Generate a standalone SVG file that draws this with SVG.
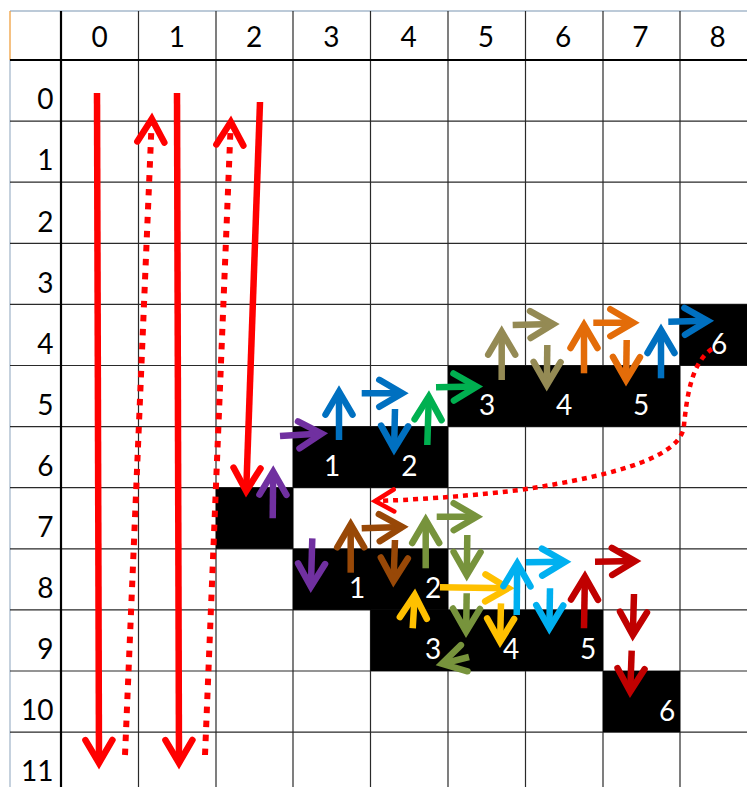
<svg xmlns="http://www.w3.org/2000/svg" width="747" height="787" viewBox="0 0 747 787">
<style>
.g{stroke:#2a2a2a;stroke-width:1.2;fill:none}
.gb{stroke:#000;stroke-width:2.2;fill:none}
.bd{stroke:#a7b9cc;stroke-width:1.3;fill:none}
.cell{fill:#000}
.hd{font-family:Lato,"Liberation Sans",sans-serif;font-size:28px;fill:#000}
.wn{font-family:Lato,"Liberation Sans",sans-serif;font-size:28px;fill:#fff;text-anchor:middle}
.a{fill:none;stroke-width:6.5;stroke-linecap:butt}
.red{stroke:#ff0000}.pur{stroke:#7030a0}.blu{stroke:#0070c0}.grn{stroke:#00b050}
.khk{stroke:#948a54}.org{stroke:#e36c09}.brn{stroke:#984807}.ogr{stroke:#77933c}
.yel{stroke:#ffc000}.lbl{stroke:#00b0f0}.drd{stroke:#c00000}
.dot{fill:none;stroke:#ff0000;stroke-width:6;stroke-dasharray:6.5 7.5}
.dotc{fill:none;stroke:#ff0000;stroke-width:4.5;stroke-dasharray:5 5}
</style>
<defs>
<marker id="h-red" markerUnits="userSpaceOnUse" refX="0" refY="0" orient="auto" overflow="visible"><path d="M-23,-13.5 L0,0 L-23,13.5" fill="none" stroke="#ff0000" stroke-width="6.5" stroke-linecap="round"/></marker>
<marker id="h-reds" markerUnits="userSpaceOnUse" refX="0" refY="0" orient="auto" overflow="visible"><path d="M-19,-11 L0,0 L-19,11" fill="none" stroke="#ff0000" stroke-width="4.5" stroke-linecap="round"/></marker>
<marker id="h-pur" markerUnits="userSpaceOnUse" refX="0" refY="0" orient="auto" overflow="visible"><path d="M-23,-13.5 L0,0 L-23,13.5" fill="none" stroke="#7030a0" stroke-width="6.5" stroke-linecap="round"/></marker>
<marker id="h-blu" markerUnits="userSpaceOnUse" refX="0" refY="0" orient="auto" overflow="visible"><path d="M-23,-13.5 L0,0 L-23,13.5" fill="none" stroke="#0070c0" stroke-width="6.5" stroke-linecap="round"/></marker>
<marker id="h-grn" markerUnits="userSpaceOnUse" refX="0" refY="0" orient="auto" overflow="visible"><path d="M-23,-13.5 L0,0 L-23,13.5" fill="none" stroke="#00b050" stroke-width="6.5" stroke-linecap="round"/></marker>
<marker id="h-khk" markerUnits="userSpaceOnUse" refX="0" refY="0" orient="auto" overflow="visible"><path d="M-23,-13.5 L0,0 L-23,13.5" fill="none" stroke="#948a54" stroke-width="6.5" stroke-linecap="round"/></marker>
<marker id="h-org" markerUnits="userSpaceOnUse" refX="0" refY="0" orient="auto" overflow="visible"><path d="M-23,-13.5 L0,0 L-23,13.5" fill="none" stroke="#e36c09" stroke-width="6.5" stroke-linecap="round"/></marker>
<marker id="h-brn" markerUnits="userSpaceOnUse" refX="0" refY="0" orient="auto" overflow="visible"><path d="M-23,-13.5 L0,0 L-23,13.5" fill="none" stroke="#984807" stroke-width="6.5" stroke-linecap="round"/></marker>
<marker id="h-ogr" markerUnits="userSpaceOnUse" refX="0" refY="0" orient="auto" overflow="visible"><path d="M-23,-13.5 L0,0 L-23,13.5" fill="none" stroke="#77933c" stroke-width="6.5" stroke-linecap="round"/></marker>
<marker id="h-yel" markerUnits="userSpaceOnUse" refX="0" refY="0" orient="auto" overflow="visible"><path d="M-23,-13.5 L0,0 L-23,13.5" fill="none" stroke="#ffc000" stroke-width="6.5" stroke-linecap="round"/></marker>
<marker id="h-lbl" markerUnits="userSpaceOnUse" refX="0" refY="0" orient="auto" overflow="visible"><path d="M-23,-13.5 L0,0 L-23,13.5" fill="none" stroke="#00b0f0" stroke-width="6.5" stroke-linecap="round"/></marker>
<marker id="h-drd" markerUnits="userSpaceOnUse" refX="0" refY="0" orient="auto" overflow="visible"><path d="M-23,-13.5 L0,0 L-23,13.5" fill="none" stroke="#c00000" stroke-width="6.5" stroke-linecap="round"/></marker>
</defs>
<rect x="0" y="0" width="747" height="787" fill="#fff"/>
<g id="grid">
<path class="bd" d="M10,11 H747 M10,60 V787"/>
<path d="M10,11 V60" stroke="#f0a040" stroke-width="1.3"/>
<path class="g" d="M138.5,11 V787 M216,11 V787 M293,11 V787 M370.5,11 V787 M448,11 V787 M525.5,11 V787 M603,11 V787 M680,11 V787"/>
<path class="g" d="M10,121.1 H747 M10,182.2 H747 M10,243.3 H747 M10,304.4 H747 M10,365.5 H747 M10,426.6 H747 M10,487.7 H747 M10,548.8 H747 M10,609.9 H747 M10,671 H747 M10,732.1 H747"/>
<path class="gb" d="M10,60 H747 M61,11 V787"/>
</g>
<g id="headers">
<text class="hd" text-anchor="middle" x="99.6" y="47">0</text>
<text class="hd" text-anchor="middle" x="176.9" y="47">1</text>
<text class="hd" text-anchor="middle" x="254.1" y="47">2</text>
<text class="hd" text-anchor="middle" x="331.4" y="47">3</text>
<text class="hd" text-anchor="middle" x="408.6" y="47">4</text>
<text class="hd" text-anchor="middle" x="485.9" y="47">5</text>
<text class="hd" text-anchor="middle" x="563.1" y="47">6</text>
<text class="hd" text-anchor="middle" x="640.4" y="47">7</text>
<text class="hd" text-anchor="middle" x="717.6" y="47">8</text>
<text class="hd" text-anchor="end" x="53.5" y="109.3">0</text>
<text class="hd" text-anchor="end" x="53.5" y="170.4">1</text>
<text class="hd" text-anchor="end" x="53.5" y="231.5">2</text>
<text class="hd" text-anchor="end" x="53.5" y="292.6">3</text>
<text class="hd" text-anchor="end" x="53.5" y="353.7">4</text>
<text class="hd" text-anchor="end" x="53.5" y="414.8">5</text>
<text class="hd" text-anchor="end" x="53.5" y="475.9">6</text>
<text class="hd" text-anchor="end" x="53.5" y="537">7</text>
<text class="hd" text-anchor="end" x="53.5" y="598.1">8</text>
<text class="hd" text-anchor="end" x="53.5" y="659.2">9</text>
<text class="hd" text-anchor="end" x="53.5" y="720.3">10</text>
<text class="hd" text-anchor="end" x="53.5" y="781.4">11</text>
</g>
<g id="cell-r4-c8"><rect class="cell" x="679.5" y="304.4" width="68" height="61.1"/><text class="wn" x="719" y="354">6</text></g>
<g id="cells-r5"><rect class="cell" x="448" y="365.5" width="232" height="61.1"/><text class="wn" x="487" y="415">3</text><text class="wn" x="564" y="415">4</text><text class="wn" x="641" y="415">5</text></g>
<g id="cells-r6"><rect class="cell" x="293" y="426.6" width="155" height="61.1"/><text class="wn" x="332" y="476.3">1</text><text class="wn" x="409.3" y="476.3">2</text></g>
<g id="cell-r7-c2"><rect class="cell" x="216" y="487.7" width="77" height="61.1"/></g>
<g id="cells-r8"><rect class="cell" x="293" y="548.8" width="155" height="61.1"/><text class="wn" x="357" y="598.3">1</text><text class="wn" x="433" y="598.3">2</text></g>
<g id="cells-r9"><rect class="cell" x="370.5" y="609.9" width="232.5" height="61.1"/><text class="wn" x="433" y="659.4">3</text><text class="wn" x="511" y="659.4">4</text><text class="wn" x="588" y="659.4">5</text></g>
<g id="cell-r10-c7"><rect class="cell" x="603" y="671" width="77" height="61.1"/><text class="wn" x="667" y="720.5">6</text></g>
<g id="connectors">
<path class="a red" d="M97,93 L99,763" marker-end="url(#h-red)"/>
<path class="a red" d="M177,93 L179,763" marker-end="url(#h-red)"/>
<path class="a red" d="M260,102 L246.2,491" marker-end="url(#h-red)"/>
<path class="dot" d="M125,755 L151.8,119" marker-end="url(#h-red)"/>
<path class="dot" d="M205,755 L230.8,122" marker-end="url(#h-red)"/>
<path class="dotc" d="M712,349 C692,362 687,395 684,425 C682,455 625,474 520,490 C460,497 410,500 375,501" marker-end="url(#h-reds)"/>
<path class="a pur" d="M280,436 L321.7,433.6" marker-end="url(#h-pur)"/>
<path class="a pur" d="M272.7,518.3 L273.2,471.7" marker-end="url(#h-pur)"/>
<path class="a pur" d="M312.3,538.3 L310.9,586.7" marker-end="url(#h-pur)"/>
<path class="a blu" d="M339,440 L339,391.7" marker-end="url(#h-blu)"/>
<path class="a blu" d="M361.7,393.3 L402.3,393.3" marker-end="url(#h-blu)"/>
<path class="a blu" d="M395,409 L394.1,449" marker-end="url(#h-blu)"/>
<path class="a grn" d="M427.3,445 L428.8,396.7" marker-end="url(#h-grn)"/>
<path class="a grn" d="M436,387.3 L476.7,386.6" marker-end="url(#h-grn)"/>
<path class="a khk" d="M501.7,380 L501.7,331.7" marker-end="url(#h-khk)"/>
<path class="a khk" d="M512.7,325 L553.3,324.1" marker-end="url(#h-khk)"/>
<path class="a khk" d="M547.3,345 L546.8,385" marker-end="url(#h-khk)"/>
<path class="a org" d="M584,373.3 L584,325" marker-end="url(#h-org)"/>
<path class="a org" d="M593.3,322.7 L633.3,322.7" marker-end="url(#h-org)"/>
<path class="a org" d="M626.7,340 L626.1,380" marker-end="url(#h-org)"/>
<path class="a blu" d="M661,378.3 L661,330" marker-end="url(#h-blu)"/>
<path class="a blu" d="M668.3,321.7 L707.7,320.8" marker-end="url(#h-blu)"/>
<path class="a brn" d="M350.7,572.7 L350.7,524.3" marker-end="url(#h-brn)"/>
<path class="a brn" d="M361.7,528.3 L402.3,526.9" marker-end="url(#h-brn)"/>
<path class="a brn" d="M395,540 L393.5,581" marker-end="url(#h-brn)"/>
<path class="a ogr" d="M425.7,568.3 L425.7,520" marker-end="url(#h-ogr)"/>
<path class="a ogr" d="M436.7,516.7 L476.7,516.7" marker-end="url(#h-ogr)"/>
<path class="a ogr" d="M467.3,535 L466.8,575" marker-end="url(#h-ogr)"/>
<path class="a ogr" d="M466.7,593.3 L466.1,631.7" marker-end="url(#h-ogr)"/>
<path class="a ogr" d="M469,657 L441.9,663.8" marker-end="url(#h-ogr)"/>
<path class="a yel" d="M440,587.3 L508.3,588.2" marker-end="url(#h-yel)"/>
<path class="a yel" d="M412.7,628.3 L414.7,595" marker-end="url(#h-yel)"/>
<path class="a yel" d="M501,603.3 L500.1,641.7" marker-end="url(#h-yel)"/>
<path class="a lbl" d="M516.7,615 L517.2,563.3" marker-end="url(#h-lbl)"/>
<path class="a lbl" d="M526,562.3 L565,561.8" marker-end="url(#h-lbl)"/>
<path class="a lbl" d="M550,588.3 L549.4,628.3" marker-end="url(#h-lbl)"/>
<path class="a drd" d="M584,628.3 L584.9,576.7" marker-end="url(#h-drd)"/>
<path class="a drd" d="M595,561.7 L635,561.1" marker-end="url(#h-drd)"/>
<path class="a drd" d="M634,594 L632.8,635" marker-end="url(#h-drd)"/>
<path class="a drd" d="M631.7,650.7 L630.2,691.7" marker-end="url(#h-drd)"/>
</g>
</svg>
